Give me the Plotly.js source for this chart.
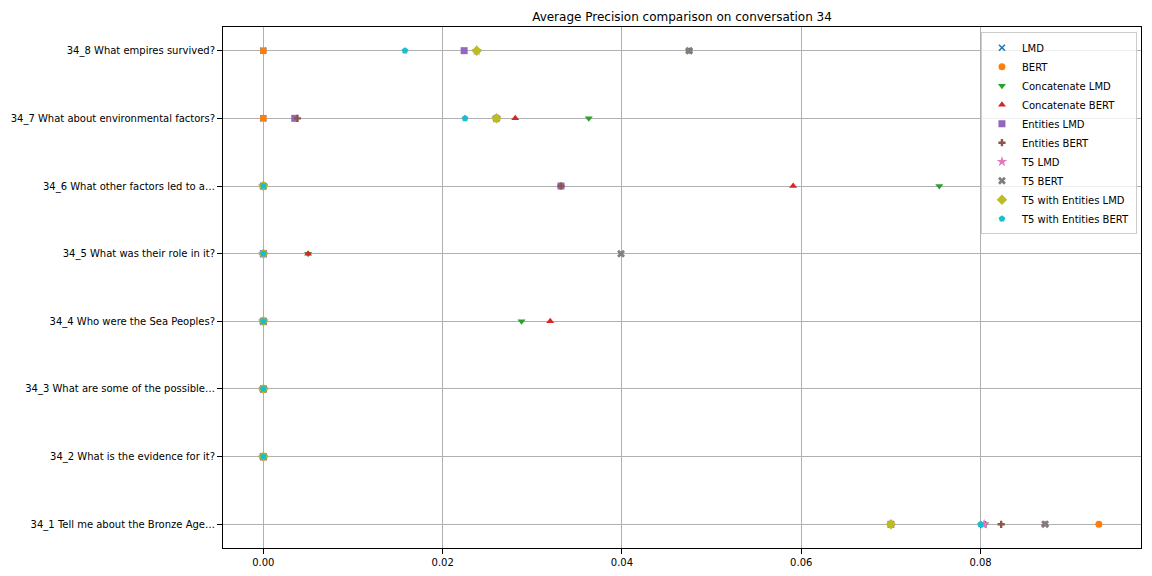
<!DOCTYPE html>
<html>
<head>
<meta charset="utf-8">
<script src="https://cdn.plot.ly/plotly-3.0.1.min.js"></script>
<style>body{margin:0;padding:0;background:#fff;} #chart{width:1152px;height:576px;}</style>
</head>
<body>
<div id="chart"></div>
<script>
const categories = [
  "34_1 Tell me about the Bronze Age…",
  "34_2 What is the evidence for it?",
  "34_3 What are some of the possible…",
  "34_4 Who were the Sea Peoples?",
  "34_5 What was their role in it?",
  "34_6 What other factors led to a…",
  "34_7 What about environmental factors?",
  "34_8 What empires survived?"
];
const seriesNames = ["LMD","BERT","Concatenate LMD","Concatenate BERT","Entities LMD","Entities BERT","T5 LMD","T5 BERT","T5 with Entities LMD","T5 with Entities BERT"];
// values per series, in category order (34_1 .. 34_8)
const lmd            = [0.0803, 0, 0, 0, 0, 0, 0, 0];
const bert           = [0.0932, 0, 0, 0, 0, 0, 0, 0];
const concatLmd      = [0.0805, 0, 0, 0.0288, 0.0050, 0.0754, 0.0363, 0.0475];
const concatBert     = [0.0872, 0, 0, 0.0320, 0.0050, 0.0591, 0.0281, 0.0475];
const entitiesLmd    = [0.0700, 0, 0, 0, 0, 0.0332, 0.0035, 0.0224];
const entitiesBert   = [0.0823, 0, 0, 0, 0, 0.0332, 0.0038, 0.0238];
const t5Lmd          = [0.0804, 0, 0, 0, 0, 0, 0.0260, 0.0238];
const t5Bert         = [0.0872, 0, 0, 0, 0.0399, 0, 0.0260, 0.0475];
const t5EntLmd       = [0.0700, 0, 0, 0, 0, 0, 0.0260, 0.0238];
const t5EntBert      = [0.0800, 0, 0, 0, 0, 0, 0.0225, 0.0158];

const seriesValues = [lmd, bert, concatLmd, concatBert, entitiesLmd, entitiesBert, t5Lmd, t5Bert, t5EntLmd, t5EntBert];
const colors = ["#1f77b4","#ff7f0e","#2ca02c","#d62728","#9467bd","#8c564b","#e377c2","#7f7f7f","#bcbd22","#17becf"];
const symbols = ["x-thin","circle","triangle-down","triangle-up","square","cross","star","x","diamond","pentagon"];
const sizes = [6,7,7,7,7,6,8,7,8,7];

const traces = seriesNames.map((name, i) => ({
  type: "scatter",
  mode: "markers",
  name: name,
  x: seriesValues[i],
  y: categories,
  marker: {
    color: colors[i],
    symbol: symbols[i],
    size: sizes[i],
    line: symbols[i] === "x-thin" ? {color: colors[i], width: 1.6} : {width: 0}
  }
}));

const layout = {
  width: 1152, height: 576,
  margin: {l: 223, r: 11, t: 27, b: 28},
  paper_bgcolor: "#fff", plot_bgcolor: "#fff",
  font: {family: "DejaVu Sans", size: 10, color: "#000"},
  title: {text: "Average Precision comparison on conversation 34", font: {size: 12, family: "DejaVu Sans"}, x: 0.5, xref: "paper", y: 0.97, yanchor: "middle"},
  showlegend: true,
  legend: {x: 0.9956, xanchor: "right", y: 0.990, yanchor: "top", bgcolor: "rgba(255,255,255,0.8)", bordercolor: "#cccccc", borderwidth: 1, font: {size: 10}, tracegroupgap: 0, itemwidth: 30},
  xaxis: {
    range: [-0.0045, 0.0979], tick0: 0, dtick: 0.02, tickformat: ".2f",
    showgrid: true, gridcolor: "#b0b0b0", gridwidth: 1, zeroline: false,
    showline: true, linecolor: "#000", linewidth: 1, mirror: true,
    ticks: "outside", ticklen: 5, tickcolor: "#000", tickfont: {size: 10}
  },
  yaxis: {
    type: "category", categoryorder: "array", categoryarray: categories,
    range: [-0.35, 7.35],
    showgrid: true, gridcolor: "#b0b0b0", gridwidth: 1, zeroline: false,
    showline: true, linecolor: "#000", linewidth: 1, mirror: true,
    ticks: "outside", ticklen: 5, tickcolor: "#000", tickfont: {size: 10}
  }
};

Plotly.newPlot("chart", traces, layout, {displayModeBar: false, staticPlot: true});
</script>
</body>
</html>
